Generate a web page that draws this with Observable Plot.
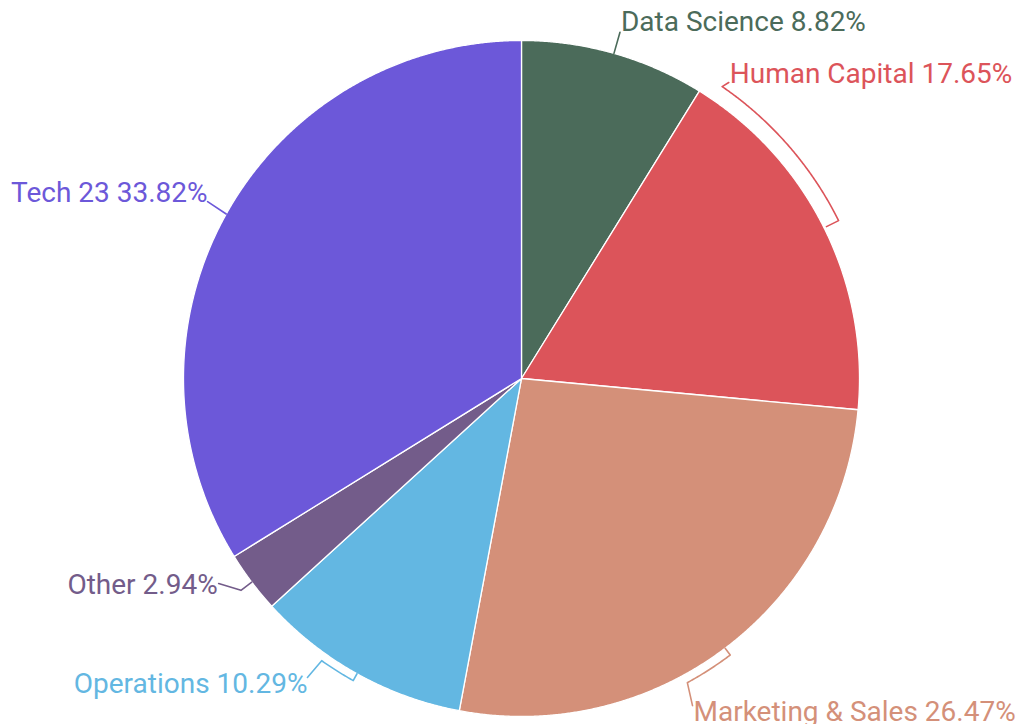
<!DOCTYPE html>
<html>
<head>
<meta charset="utf-8">
<script src="https://cdn.jsdelivr.net/npm/d3@7"></script>
<script src="https://cdn.jsdelivr.net/npm/@observablehq/plot@0.6"></script>
<style>
  html, body { margin: 0; padding: 0; background: #ffffff; }
  #chart svg { display: block; }
</style>
</head>
<body>
<div id="chart"></div>
<script>
// ---- data ----
const categories = ["Data Science", "Human Capital", "Marketing & Sales", "Operations", "Other", "Tech 23"];
const shares = [8.82, 17.65, 26.47, 10.29, 2.94, 33.82];
const palette = ["#4b6b5a", "#dc545a", "#d49079", "#63b7e2", "#735c8a", "#6c58d9"];

// ---- layout (label leaders, polar: angle in degrees clockwise from top, radius relative to pie) ----
const leaderLayout = {
  "Data Science":      {pts: [["mid", 1.0], ["mid", 1.065]], anchor: "start", dx: 1, dy: -1},
  "Human Capital":     {pts: [["mid", 1.008], ["mid", 1.048], ["arc", 34.5, 1.048], [35.0, 1.069]], anchor: "start", dx: 1, dy: 0},
  "Marketing & Sales": {pts: [["mid", 1.0], ["mid", 1.025], ["arc", 151.4, 1.025], [152.4, 1.092]], anchor: "start", dx: 1, dy: 15},
  "Operations":        {pts: [["mid", 1.0], ["mid", 1.023], ["arc", 215.3, 1.023], [215.6, 1.088]], anchor: "end", dx: 0, dy: 15},
  "Other":             {pts: [["mid", 1.0], ["mid", 1.04], [235.9, 1.082]], anchor: "end", dx: -1, dy: 10},
  "Tech 23":           {pts: [["mid", 1.0], [299.4, 1.066]], anchor: "end", dx: 0, dy: 0}
};

const rows = categories.map((name, i) => ({name, value: shares[i]}));
const arcs = d3.pie().sort(null).value(d => d.value).startAngle(0).endAngle(2 * Math.PI)(rows);

const polar = (a, r) => ({x: r * Math.sin(a), y: -r * Math.cos(a)});
const rad = deg => deg * Math.PI / 180;

function arcPoints(a0, a1, r) {
  const n = Math.max(2, Math.ceil(Math.abs(a1 - a0) / 0.004));
  return d3.range(n + 1).map(k => polar(a0 + (a1 - a0) * k / n, r));
}

// slices
const slicePts = [];
arcs.forEach(a => {
  const pts = [{x: 0, y: 0}, ...arcPoints(a.startAngle, a.endAngle, 1), {x: 0, y: 0}];
  pts.forEach(p => slicePts.push({...p, name: a.data.name}));
});

// leaders and labels
const leaderPts = [];
const labels = [];
arcs.forEach(a => {
  const name = a.data.name;
  const L = leaderLayout[name];
  const mid = (a.startAngle + a.endAngle) / 2;
  let cur = null;
  const out = [];
  L.pts.forEach(p => {
    if (p[0] === "arc") {
      const pts = arcPoints(cur, rad(p[1]), p[2]);
      out.push(...pts);
      cur = rad(p[1]);
    } else {
      const ang = p[0] === "mid" ? mid : rad(p[0]);
      out.push(polar(ang, p[1]));
      cur = ang;
    }
  });
  out.forEach(p => leaderPts.push({...p, name}));
  const end = out[out.length - 1];
  labels.push({x: end.x, y: end.y, name, text: `${name} ${a.data.value.toFixed(2)}%`, anchor: L.anchor, dx: L.dx, dy: L.dy});
});

const R = 338, cx = 521, cy = 378;

const chart = Plot.plot({
  width: 1017,
  height: 724,
  margin: 0,
  style: {fontFamily: "Roboto, sans-serif", background: "white"},
  x: {domain: [-1, 1], range: [cx - R, cx + R], axis: null},
  y: {domain: [-1, 1], range: [cy - R, cy + R], axis: null},
  color: {domain: categories, range: palette},
  marks: [
    Plot.line(slicePts, {x: "x", y: "y", z: "name", fill: "name", stroke: "white", strokeWidth: 1.3, strokeLinejoin: "round", curve: "linear"}),
    Plot.line(leaderPts, {x: "x", y: "y", z: "name", stroke: "name", strokeWidth: 1.6, curve: "linear"}),
    ...labels.map(l => Plot.text([l], {
      x: "x", y: "y", text: "text", fill: "name",
      textAnchor: l.anchor, lineAnchor: "bottom", dx: l.dx, dy: l.dy,
      fontSize: 28, fontWeight: 400
    }))
  ]
});

document.getElementById("chart").appendChild(chart);
</script>
</body>
</html>
